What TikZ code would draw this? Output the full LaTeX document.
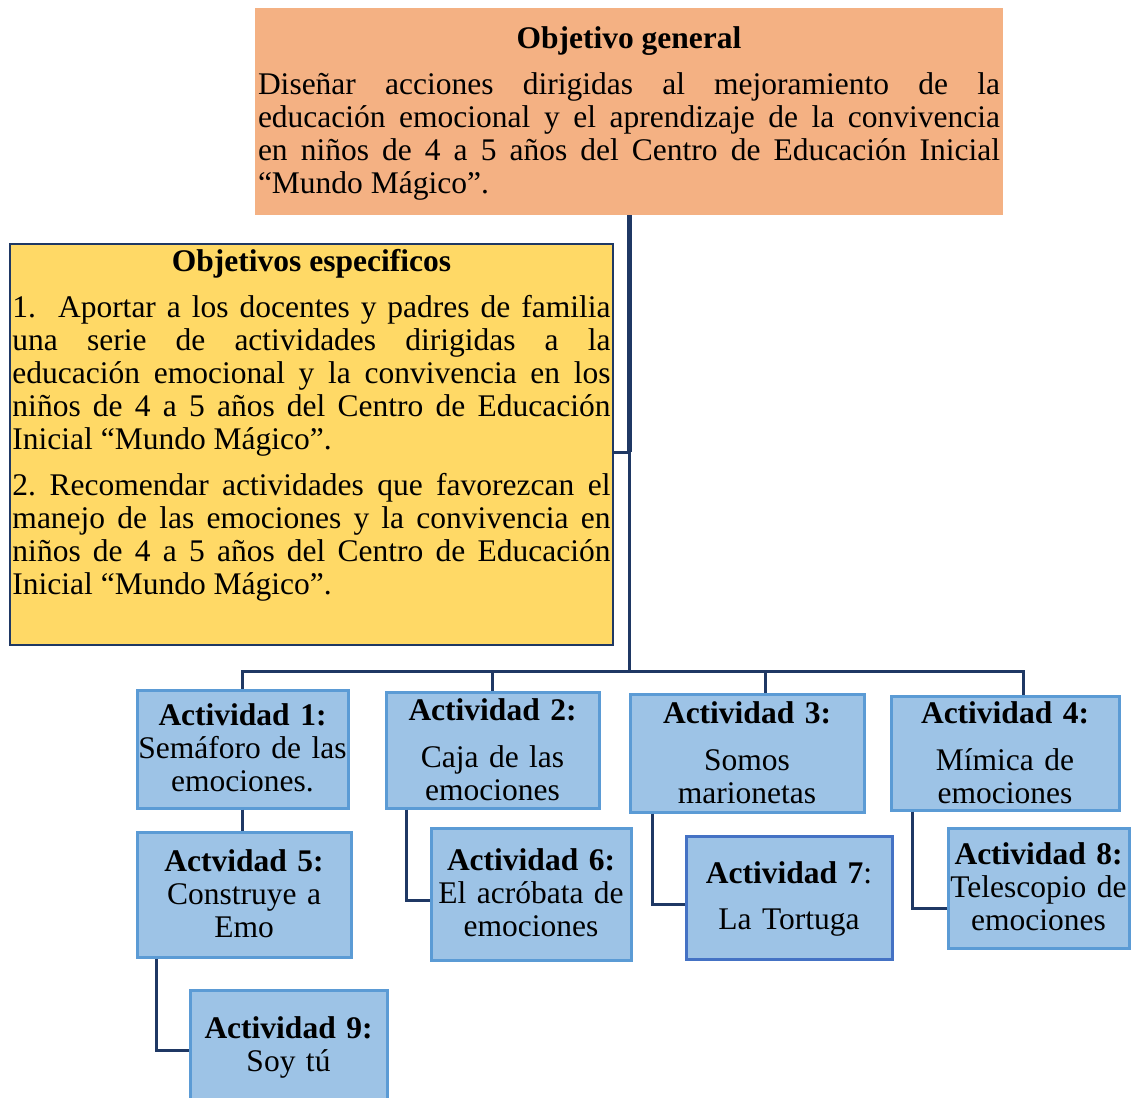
\documentclass[tikz,border=0pt]{standalone}
\usepackage{fontspec}
\setmainfont{Liberation Serif}
\usepackage{tikz}
\frenchspacing

\definecolor{genfill}{HTML}{F4B183}
\definecolor{espfill}{HTML}{FFD966}
\definecolor{actfill}{HTML}{9DC3E6}
\definecolor{actline}{HTML}{5B9BD5}
\definecolor{actdark}{HTML}{4472C4}
\definecolor{linenavy}{HTML}{1F3864}

\begin{document}
\begin{tikzpicture}[x=1pt, y=-1pt,
  every node/.style={font=\fontsize{31.5}{33}\selectfont, inner sep=0pt, anchor=base},
  act/.style={fill=actfill, draw=actline, line width=3pt, align=center},
  link/.style={draw=linenavy, line width=3pt}]
  \useasboundingbox (0, 0) rectangle (1137, 1097);
  \clip (0, 0) rectangle (1137, 1097);
  \node (gen) [fill=genfill, align=justify, minimum width=748pt, text width=742pt, text height=41pt, text depth=166pt] at (629, 49)
    {\centerline{\textbf{Objetivo general}}\vspace{13pt}
     Diseñar acciones dirigidas al mejoramiento de la\linebreak
     educación emocional y el aprendizaje de la convivencia\linebreak
     en niños de 4 a 5 años del Centro de Educación Inicial\linebreak
     “Mundo Mágico”.};
  \node (esp) [fill=espfill, draw=linenavy, line width=2pt, align=justify, minimum width=603pt, text width=598pt, text height=27pt, text depth=374pt] at (311.5, 271)
    {\centerline{\textbf{Objetivos especificos}}\vspace{13pt}
     1.~~Aportar a los docentes y padres de familia\linebreak
     una serie de actividades dirigidas a la\linebreak
     educación emocional y la convivencia en los\linebreak
     niños de 4 a 5 años del Centro de Educación\linebreak
     Inicial “Mundo Mágico”.\par\vspace{13pt}
     2. Recomendar actividades que favorezcan el\linebreak
     manejo de las emociones y la convivencia en\linebreak
     niños de 4 a 5 años del Centro de Educación\linebreak
     Inicial “Mundo Mágico”.};
  \node (a1) [act, minimum width=211pt, text width=211pt, text height=35pt, text depth=83pt] at (242.5, 725)
    {\textbf{Actividad 1:}\\Semáforo de las\\emociones.};
  \node (a2) [act, minimum width=213pt, text width=213pt, text height=28pt, text depth=88pt] at (492.5, 720)
    {\textbf{Actividad 2:}\\[14pt]Caja de las\\emociones};
  \node (a3) [act, minimum width=234pt, text width=234pt, text height=29pt, text depth=89pt] at (747, 723)
    {\textbf{Actividad 3:}\\[14pt]Somos\\marionetas};
  \node (a4) [act, minimum width=228pt, text width=228pt, text height=27pt, text depth=87pt] at (1005, 723)
    {\textbf{Actividad 4:}\\[14pt]Mímica de\\emociones};
  \node (a5) [act, minimum width=214pt, text width=214pt, text height=39pt, text depth=86pt] at (244, 871)
    {\textbf{Actvidad 5:}\\Construye a\\Emo};
  \node (a6) [act, minimum width=200pt, text width=200pt, text height=42pt, text depth=90pt] at (531, 870)
    {\textbf{Actividad 6:}\\El acróbata de\\emociones};
  \node (a7) [act, draw=actdark, minimum width=206pt, text width=206pt, text height=47pt, text depth=76pt] at (789, 883)
    {\textbf{Actividad 7}:\\[13pt]La Tortuga};
  \node (a8) [act, minimum width=181pt, text width=181pt, text height=36pt, text depth=84pt] at (1038.5, 864)
    {\textbf{Actividad 8:}\\Telescopio de\\emociones};
  \node (a9) [act, minimum width=197pt, text width=197pt, text height=48pt, text depth=72pt] at (288.5, 1038)
    {\textbf{Actividad 9:}\\Soy tú};
  \coordinate (j) at (629, 452);
  \coordinate (bus) at (629, 671);
  \draw[link, line width=5pt] (gen.south) -- (j);
  \draw[link] (esp.east |- j) -- (j) -- (bus);
  \draw[link] (a1.north) |- ([xshift=18pt]a4.north |- bus) -- ([xshift=18pt]a4.north);
  \draw[link] (a2.north) -- (a2.north |- bus);
  \draw[link] ([xshift=18pt]a3.north) -- ([xshift=18pt]a3.north |- bus);
  \draw[link] (a1.south) -- (a1.south |- a5.north);
  \draw[link] ([xshift=22pt]a2.south west) |- ([yshift=-6pt]a6.west);
  \draw[link] ([xshift=24pt]a3.south west) |- ([yshift=-7pt]a7.west);
  \draw[link] ([xshift=23pt]a4.south west) |- ([yshift=-20pt]a8.west);
  \draw[link] ([xshift=21pt]a5.south west) |- (a9.west);
\end{tikzpicture}
\end{document}
